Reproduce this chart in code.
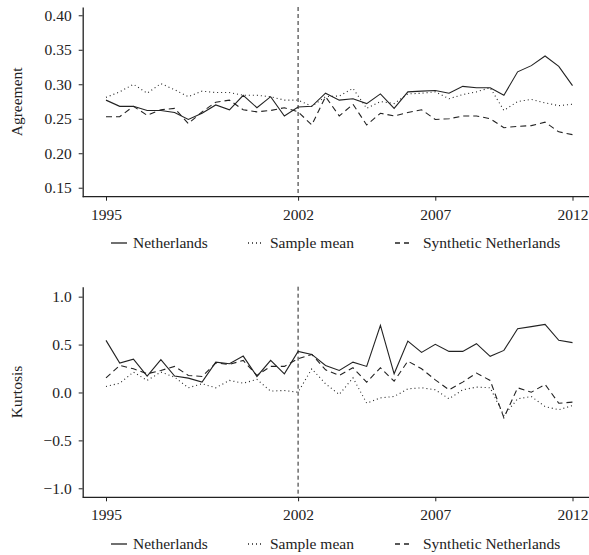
<!DOCTYPE html>
<html>
<head>
<meta charset="utf-8">
<script src="https://cdn.jsdelivr.net/npm/d3@7"></script>
<style>
  body { margin: 0; background: #fff; }
  svg text { font-family: "Liberation Serif", "DejaVu Serif", serif; fill: #222; }
</style>
</head>
<body>
<div class="chartHolder"></div>
<script>
// half-yearly observations, 1995 to 2012
const years = d3.range(35).map((i) => 1995 + i * 0.5);
const xTicks = [1995, 2002, 2007, 2012];
const treatYear = 2002;

const agreeNL = [0.277, 0.268, 0.268, 0.262, 0.262, 0.259, 0.249, 0.258, 0.270, 0.263,
  0.284, 0.266, 0.282, 0.254, 0.267, 0.268, 0.287, 0.277, 0.279, 0.272,
  0.286, 0.265, 0.289, 0.290, 0.291, 0.287, 0.297, 0.295, 0.295, 0.284,
  0.318, 0.327, 0.341, 0.326, 0.298];
const agreeMean = [0.281, 0.289, 0.300, 0.287, 0.301, 0.292, 0.282, 0.290, 0.288, 0.288,
  0.284, 0.284, 0.282, 0.277, 0.277, 0.268, 0.282, 0.283, 0.294, 0.265,
  0.275, 0.272, 0.286, 0.287, 0.289, 0.279, 0.285, 0.289, 0.295, 0.262,
  0.275, 0.278, 0.273, 0.269, 0.271];
const agreeSynth = [0.253, 0.253, 0.268, 0.255, 0.263, 0.265, 0.243, 0.260, 0.274, 0.277,
  0.263, 0.260, 0.262, 0.266, 0.260, 0.241, 0.282, 0.254, 0.271, 0.241,
  0.258, 0.254, 0.259, 0.263, 0.249, 0.250, 0.254, 0.254, 0.250, 0.237,
  0.239, 0.240, 0.245, 0.231, 0.227];
const agreeTicks = [0.15, 0.20, 0.25, 0.30, 0.35, 0.40];

const kurtNL = [0.544, 0.307, 0.348, 0.171, 0.342, 0.171, 0.150, 0.108, 0.317, 0.300,
  0.380, 0.167, 0.335, 0.195, 0.429, 0.397, 0.282, 0.230, 0.317, 0.272,
  0.701, 0.195, 0.537, 0.418, 0.502, 0.429, 0.429, 0.509, 0.377, 0.439,
  0.666, 0.687, 0.711, 0.544, 0.520];
const kurtMean = [0.063, 0.097, 0.213, 0.126, 0.213, 0.160, 0.049, 0.091, 0.049, 0.126,
  0.097, 0.136, 0.014, 0.021, 0.003, 0.247, 0.091, -0.021, 0.153, -0.112,
  -0.056, -0.042, 0.038, 0.049, 0.028, -0.066, 0.028, 0.056, 0.049, -0.241,
  -0.066, -0.042, -0.147, -0.181, -0.136];
const kurtSynth = [0.153, 0.282, 0.247, 0.195, 0.230, 0.272, 0.178, 0.167, 0.307, 0.293,
  0.335, 0.178, 0.272, 0.272, 0.352, 0.397, 0.237, 0.178, 0.258, 0.108,
  0.258, 0.118, 0.327, 0.247, 0.132, 0.028, 0.108, 0.202, 0.126, -0.265,
  0.049, 0.003, 0.084, -0.112, -0.101];
const kurtTicks = [-1.0, -0.5, 0.0, 0.5, 1.0];

const seriesNames = ["Netherlands", "Sample mean", "Synthetic Netherlands"];
const dashes = [null, "1,3", "6,4"];

const width = 589;
const height = 555;
const left = 82.7;

const svg = d3
  .select(".chartHolder")
  .append("svg")
  .attr("width", width)
  .attr("height", height);

const xScale = d3
  .scaleLinear()
  .domain([1995, 2012])
  .range([106, 572.5]);

function drawPanel(opts) {
  const yScale = d3
    .scaleLinear()
    .domain(opts.domain)
    .range([opts.bottom, opts.top]);

  const g = svg.append("g");

  // data lines
  const line = d3
    .line()
    .x((d, i) => xScale(years[i]))
    .y((d) => yScale(d));

  opts.series.forEach((s, i) => {
    g.append("path")
      .datum(s)
      .attr("d", line)
      .attr("fill", "none")
      .attr("stroke", "#222")
      .attr("stroke-width", 1.1)
      .attr("stroke-dasharray", dashes[i]);
  });

  // treatment marker
  g.append("line")
    .attr("x1", xScale(treatYear))
    .attr("x2", xScale(treatYear))
    .attr("y1", opts.top)
    .attr("y2", opts.bottom)
    .attr("stroke", "#222")
    .attr("stroke-width", 1)
    .attr("stroke-dasharray", "4,3");

  const yAxis = d3
    .axisLeft(yScale)
    .tickValues(opts.ticks)
    .tickFormat(opts.fmt)
    .tickSize(4)
    .tickSizeOuter(0)
    .tickPadding(7);

  const yg = g
    .append("g")
    .attr("transform", `translate(${left}, 0)`)
    .call(yAxis);
  yg.selectAll("text")
    .style("font-size", "15.5px")
    .text((d) => opts.fmt(d).replace("-", "\u2212"));

  const xAxis = d3
    .axisBottom(xScale)
    .tickValues(xTicks)
    .tickFormat(d3.format("d"))
    .tickSize(4)
    .tickSizeOuter(0)
    .tickPadding(8);

  const xg = g
    .append("g")
    .attr("transform", `translate(0, ${opts.bottom})`)
    .call(xAxis);
  xg.selectAll("text").style("font-size", "15.5px");
  xg.select(".domain").attr("d", `M${left},0H${width}`);

  g.selectAll(".domain").attr("stroke", "#222").attr("stroke-width", 1.3);
  g.selectAll(".tick line").attr("stroke", "#222");

  g.append("text")
    .attr("transform", `translate(22, ${(opts.top + opts.bottom) / 2}) rotate(-90)`)
    .attr("text-anchor", "middle")
    .style("font-size", "15.5px")
    .text(opts.label);

  // legend
  const legendX = [111, 248, 395];
  const legendTextX = [133, 270, 423];
  const legendW = [16, 15, 15];
  seriesNames.forEach((name, i) => {
    g.append("line")
      .attr("x1", legendX[i])
      .attr("x2", legendX[i] + legendW[i])
      .attr("y1", opts.legendY - 5)
      .attr("y2", opts.legendY - 5)
      .attr("stroke", "#222")
      .attr("stroke-width", 1.3)
      .attr("stroke-dasharray", i === 2 ? "5,4" : dashes[i]);
    g.append("text")
      .attr("x", legendTextX[i])
      .attr("y", opts.legendY)
      .style("font-size", "15.5px")
      .text(name);
  });
}

drawPanel({
  label: "Agreement",
  series: [agreeNL, agreeMean, agreeSynth],
  domain: [0.137, 0.412],
  top: 7,
  bottom: 196.7,
  ticks: agreeTicks,
  fmt: d3.format(".2f"),
  legendY: 248
});

drawPanel({
  label: "Kurtosis",
  series: [kurtNL, kurtMean, kurtSynth],
  domain: [-1.094, 1.104],
  top: 286.7,
  bottom: 497.3,
  ticks: kurtTicks,
  fmt: d3.format(".1f"),
  legendY: 549
});
</script>
</body>
</html>
